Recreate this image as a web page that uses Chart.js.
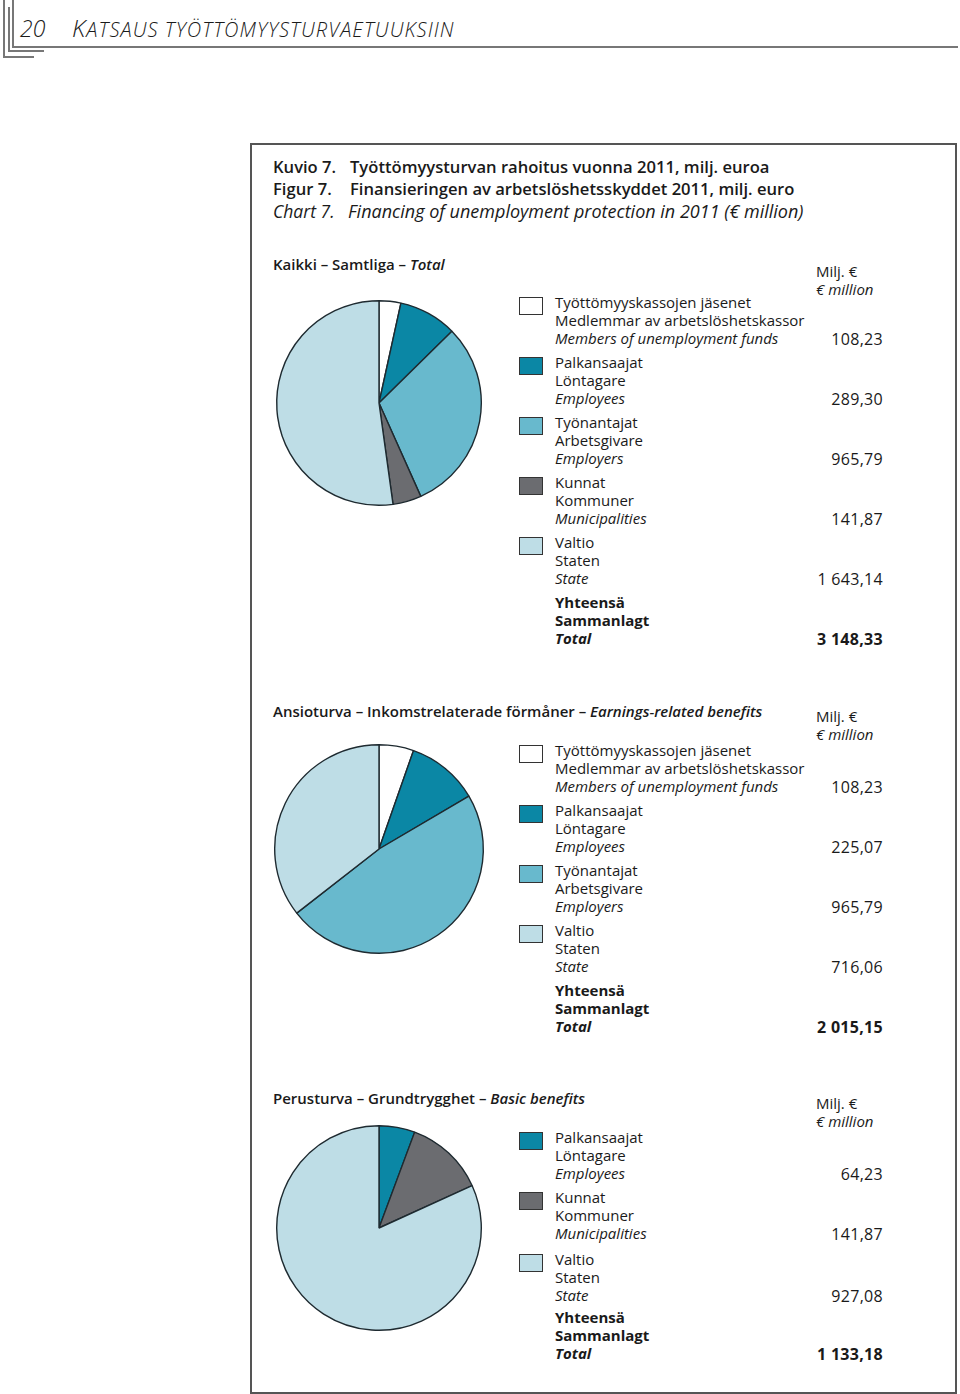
<!DOCTYPE html>
<html><head><meta charset="utf-8">
<script src="https://cdn.jsdelivr.net/npm/chart.js@4.4.1/dist/chart.umd.min.js"></script>
<style>
body{margin:0;background:#fff;width:960px;height:1394px;position:relative;font-family:"Open Sans","Noto Sans",sans-serif;color:#1a1a1a;overflow:hidden}
.a{position:absolute;white-space:nowrap}
.ln{position:absolute;background:#777}
.t{font-size:16.6px;font-weight:600;line-height:22px}
.sec{font-size:15px;font-weight:600}
.lg{font-size:15px;line-height:18px}
.sw{position:absolute;width:22px;height:16px;border:1.5px solid #333}
.val{position:absolute;font-size:16px;letter-spacing:0.3px;text-align:right;width:120px}
canvas{position:absolute}
</style></head><body>
<!-- header decoration -->
<div class="ln" style="left:3px;top:0;width:1.5px;height:57px"></div>
<div class="ln" style="left:8px;top:7px;width:1.5px;height:44px"></div>
<div class="ln" style="left:12px;top:0;width:1.5px;height:48px"></div>
<div class="ln" style="left:12px;top:46px;width:946px;height:2px"></div>
<div class="ln" style="left:8px;top:50px;width:36px;height:1.5px"></div>
<div class="ln" style="left:3px;top:56px;width:31px;height:1.5px"></div>
<div class="a" style="left:20px;top:12px;font-size:23px;font-style:italic;font-weight:300">20</div>
<div class="a" style="left:72px;top:11px;font-size:24px;font-style:italic;font-weight:300;letter-spacing:1.1px">K<span style="font-size:20px">ATSAUS TYÖTTÖMYYSTURVAETUUKSIIN</span></div>

<div style="position:absolute;left:250px;top:143px;width:703px;height:1247px;border:2px solid #555"></div>

<div class="a t" style="left:273px;top:156px">Kuvio 7.</div>
<div class="a t" style="left:350px;top:156px">Työttömyysturvan rahoitus vuonna 2011, milj. euroa</div>
<div class="a t" style="left:273px;top:178px">Figur 7.</div>
<div class="a t" style="left:350px;top:178px">Finansieringen av arbetslöshetsskyddet 2011, milj. euro</div>
<div class="a t" style="left:273px;top:200px;font-weight:400;font-style:italic;font-size:17.5px">Chart 7.</div>
<div class="a t" style="left:348px;top:200px;font-weight:400;font-style:italic;font-size:18px">Financing of unemployment protection in 2011 (€ million)</div>

<div id="root"></div>

<canvas id="c1" width="210" height="210" style="left:274px;top:298px;width:210px;height:210px"></canvas>
<canvas id="c2" width="214" height="214" style="left:272px;top:742px;width:214px;height:214px"></canvas>
<canvas id="c3" width="210" height="210" style="left:274px;top:1123px;width:210px;height:210px"></canvas>

<script>
// ---- data ----
const catFi = ["Työttömyyskassojen jäsenet","Palkansaajat","Työnantajat","Kunnat","Valtio"];
const catSv = ["Medlemmar av arbetslöshetskassor","Löntagare","Arbetsgivare","Kommuner","Staten"];
const catEn = ["Members of unemployment funds","Employees","Employers","Municipalities","State"];
const catColors = ["#ffffff","#0b87a5","#68b9cd","#6b6c70","#bedde6"];

const totalCats = [0,1,2,3,4];
const totalValues = [108.23, 289.30, 965.79, 141.87, 1643.14];
const totalSum = 3148.33;

const earningsCats = [0,1,2,4];
const earningsValues = [108.23, 225.07, 965.79, 716.06];
const earningsSum = 2015.15;

const basicCats = [1,3,4];
const basicValues = [64.23, 141.87, 927.08];
const basicSum = 1133.18;

const sections = [
  {canvas:"c1", cats:totalCats, values:totalValues, sum:totalSum, titleTop:254, milj:262, first:293, gaps:[0,60,120,180,240,300],
   title:'Kaikki – Samtliga – <i>Total</i>'},
  {canvas:"c2", cats:earningsCats, values:earningsValues, sum:earningsSum, titleTop:701, milj:707, first:741, gaps:[0,60,120,180,240],
   title:'Ansioturva – Inkomstrelaterade förmåner – <i>Earnings-related benefits</i>'},
  {canvas:"c3", cats:basicCats, values:basicValues, sum:basicSum, titleTop:1088, milj:1094, first:1128, gaps:[0,60,122,180],
   title:'Perusturva – Grundtrygghet – <i>Basic benefits</i>'}
];

function fmt(v){
  const s = v.toFixed(2).split(".");
  const int = s[0].replace(/\B(?=(\d{3})+(?!\d))/g," ");
  return int + "," + s[1];
}

const root = document.getElementById("root");
function add(html){ root.insertAdjacentHTML("beforeend", html); }

sections.forEach(sec=>{
  add(`<div class="a sec" style="left:273px;top:${sec.titleTop}px">${sec.title}</div>`);
  add(`<div class="a lg" style="left:816px;top:${sec.milj}px">Milj. €<br><i>€ million</i></div>`);
  sec.cats.forEach((c,i)=>{
    const y = sec.first + sec.gaps[i];
    add(`<div class="sw" style="left:519px;top:${y+4}px;background:${catColors[c]}"></div>`);
    add(`<div class="a lg" style="left:555px;top:${y}px">${catFi[c]}<br>${catSv[c]}<br><i>${catEn[c]}</i></div>`);
    add(`<div class="val" style="left:763px;top:${y+35}px">${fmt(sec.values[i])}</div>`);
  });
  const y = sec.first + sec.gaps[sec.cats.length];
  add(`<div class="a lg" style="left:555px;top:${y}px;font-weight:700">Yhteensä<br>Sammanlagt<br><i>Total</i></div>`);
  add(`<div class="val" style="left:763px;top:${y+35}px;font-weight:700">${fmt(sec.sum)}</div>`);

  new Chart(document.getElementById(sec.canvas), {
    type:"pie",
    data:{
      labels: sec.cats.map(c=>catEn[c]),
      datasets:[{data:sec.values, backgroundColor:sec.cats.map(c=>catColors[c]), borderColor:"#1e2a30", borderWidth:1.4}]
    },
    options:{
      responsive:false, animation:false, events:[],
      layout:{padding:2},
      plugins:{legend:{display:false}, tooltip:{enabled:false}}
    }
  });
});
</script>
</body></html>
